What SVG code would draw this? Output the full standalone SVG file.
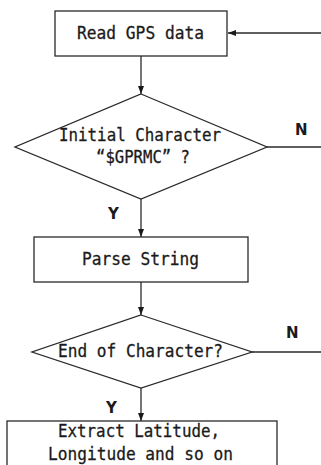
<svg xmlns="http://www.w3.org/2000/svg" width="321" height="465" viewBox="0 0 321 465">
  <style>
    .shape { fill: #ffffff; stroke: #2a2a2a; stroke-width: 1.3; }
    .line { fill: none; stroke: #2a2a2a; stroke-width: 1.3; }
    .txt { font-family: "DejaVu Sans Mono", "Liberation Mono", monospace; font-size: 18px; fill: #1a1a1a; stroke: #1a1a1a; stroke-width: 0.3; }
    .lbl { font-family: "DejaVu Sans", "Liberation Sans", sans-serif; font-size: 15px; font-weight: bold; fill: #1a1a1a; }
  </style>
  <defs>
    <marker id="arrow" viewBox="0 0 10 10" refX="10" refY="5" markerWidth="8" markerHeight="6" markerUnits="userSpaceOnUse" orient="auto" preserveAspectRatio="none">
      <path d="M0,0 L10,5 L0,10 Z" fill="#1a1a1a"/>
    </marker>
  </defs>
  <rect width="321" height="465" fill="#ffffff"/>

  <!-- connectors -->
  <g id="connectors">
    <line class="line" x1="321" y1="33" x2="228" y2="33" marker-end="url(#arrow)"/>
    <line class="line" x1="141" y1="56" x2="141" y2="94" marker-end="url(#arrow)"/>
    <line class="line" x1="267" y1="147" x2="321" y2="147"/>
    <line class="line" x1="141" y1="199" x2="141" y2="237" marker-end="url(#arrow)"/>
    <line class="line" x1="141" y1="282" x2="141" y2="315" marker-end="url(#arrow)"/>
    <line class="line" x1="252" y1="352" x2="321" y2="352"/>
    <line class="line" x1="141" y1="388" x2="141" y2="421" marker-end="url(#arrow)"/>
    <text class="lbl" x="295" y="135">N</text>
    <text class="lbl" x="108" y="219">Y</text>
    <text class="lbl" x="286" y="338">N</text>
    <text class="lbl" x="106" y="413">Y</text>
  </g>

  <g id="read-gps">
    <rect class="shape" x="55" y="11" width="172" height="45"/>
    <text class="txt" x="77" y="39" textLength="127" lengthAdjust="spacingAndGlyphs">Read GPS data</text>
  </g>

  <g id="check-initial">
    <polygon class="shape" points="141,94 267,147 141,199 15,147"/>
    <text class="txt" x="59" y="141" textLength="162" lengthAdjust="spacingAndGlyphs">Initial Character</text>
    <text class="txt" x="96" y="163" textLength="94" lengthAdjust="spacingAndGlyphs">“$GPRMC” ?</text>
  </g>

  <g id="parse-string">
    <rect class="shape" x="34" y="237" width="214" height="45"/>
    <text class="txt" x="82" y="265" textLength="117" lengthAdjust="spacingAndGlyphs">Parse String</text>
  </g>

  <g id="check-end">
    <polygon class="shape" points="141,315 252,352 141,388 32,352"/>
    <text class="txt" x="58" y="357" textLength="165" lengthAdjust="spacingAndGlyphs">End of Character?</text>
  </g>

  <g id="extract">
    <rect class="shape" x="7" y="421" width="270" height="60"/>
    <text class="txt" x="58" y="437" textLength="162" lengthAdjust="spacingAndGlyphs">Extract Latitude,</text>
    <text class="txt" x="48" y="460" textLength="185" lengthAdjust="spacingAndGlyphs">Longitude and so on</text>
  </g>
</svg>
